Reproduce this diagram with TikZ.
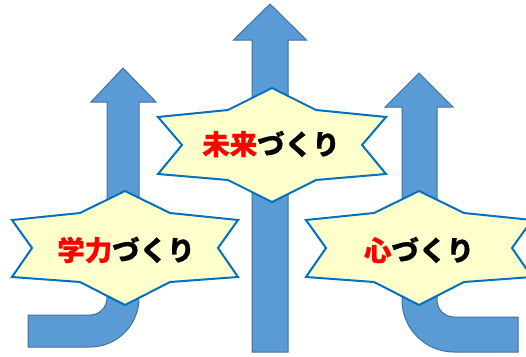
\documentclass[tikz,border=0pt]{standalone}
\usepackage{fontspec}
\newfontfamily\cjk{Noto Sans CJK JP}[BoldFeatures={FakeBold=0.6}]
\definecolor{arrowfill}{HTML}{5B9BD5}
\definecolor{arrowline}{HTML}{41719C}
\definecolor{starfill}{HTML}{FFFFCC}
\definecolor{starline}{HTML}{0070C0}
\definecolor{redtxt}{HTML}{FF0000}
\tikzset{
  arrowshape/.style={fill=arrowfill, draw=arrowline, line width=1pt, line join=miter},
  starbox/.style={fill=starfill, draw=starline, line width=2pt, line join=miter},
  label/.style={font=\cjk\bfseries\fontsize{27.5}{27.5}\selectfont, inner sep=0pt, text=black},
}
\begin{document}
\begin{tikzpicture}[x=1pt, y=-1pt]
\useasboundingbox (0,0) rectangle (526,356);
% left arrow
\draw[arrowshape] (123,68) -- (156,102) -- (139,102) -- (139,298)
  .. controls (139,325) and (117,347) .. (90,347) -- (28,347) -- (28,315) -- (90,315)
  .. controls (99.4,315) and (107,307.4) .. (107,298) -- (107,102) -- (91,102) -- cycle;
% middle arrow
\draw[arrowshape] (270,4) -- (306.5,40) -- (288,40) -- (288,352) -- (252,352) -- (252,40) -- (233.5,40) -- cycle;
% right arrow
\draw[arrowshape] (419,73) -- (453,107) -- (437,107) -- (437,300)
  .. controls (437,309.4) and (444.6,317) .. (454,317) -- (518,317) -- (518,352) -- (454,352)
  .. controls (425.3,352) and (402,328.7) .. (402,300) -- (402,107) -- (385,107) -- cycle;
% stars
\draw[starbox, shift={(272,145)}] (0,-57) -- (44,-35) -- (114,-28) -- (90,0) -- (114,29) -- (44,35) -- (0,57)
  -- (-44,35) -- (-114,29) -- (-90,0) -- (-114,-28) -- (-44,-35) -- cycle;
\draw[starbox, shift={(125,248)}] (0,-57) -- (45,-35) -- (113,-28) -- (93,0) -- (113,29) -- (45,34) -- (0,57)
  -- (-45,34) -- (-113,29) -- (-93,0) -- (-113,-28) -- (-45,-35) -- cycle;
\draw[starbox, shift={(419,248)}] (0,-57) -- (45,-35) -- (113,-28) -- (93,0) -- (113,29) -- (45,34) -- (0,57)
  -- (-45,34) -- (-113,29) -- (-93,0) -- (-113,-28) -- (-45,-35) -- cycle;
% labels
\node[label] (mirai) at (271,144) {\textcolor{redtxt}{未来}づくり};
\node[label] (gaku) at (126,250) {\textcolor{redtxt}{学力}づくり};
\node[label] (kokoro) at (419,250) {\textcolor{redtxt}{心}づくり};
\end{tikzpicture}
\end{document}
